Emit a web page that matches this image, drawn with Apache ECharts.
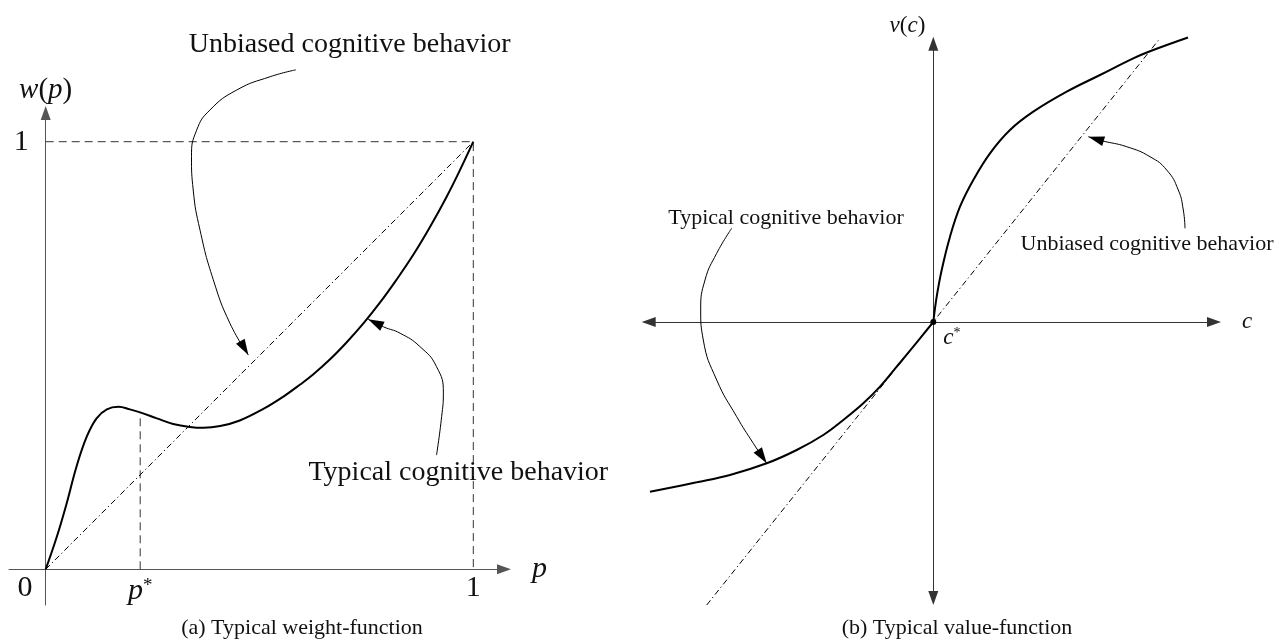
<!DOCTYPE html>
<html>
<head>
<meta charset="utf-8">
<title>Typical weight-function / value-function</title>
<script src="https://cdn.jsdelivr.net/npm/echarts@6/dist/echarts.min.js"></script>
<style>
  html, body { margin: 0; padding: 0; background: #fff; }
  #chart { width: 1286px; height: 642px; }
</style>
</head>
<body>
<div id="chart"></div>
<script>
// ---- (a) weight function w(p), p in [0, 1] ----
const P_STAR = 0.221;
const weightCurve = [
  [0, 0], [0.026, 0.076], [0.049, 0.154], [0.072, 0.240], [0.096, 0.310],
  [0.119, 0.353], [0.143, 0.374], [0.170, 0.380], [0.197, 0.374], [0.221, 0.367],
  [0.260, 0.353], [0.298, 0.340], [0.337, 0.333], [0.369, 0.331], [0.408, 0.335],
  [0.454, 0.348], [0.509, 0.375], [0.556, 0.404], [0.595, 0.432], [0.626, 0.456],
  [0.665, 0.491], [0.704, 0.531], [0.743, 0.575], [0.782, 0.624], [0.821, 0.678],
  [0.860, 0.736], [0.899, 0.801], [0.938, 0.872], [0.969, 0.934], [1, 1]
];
const weightDiagonal = [[0, 0], [1, 1]];
const weightFrame = [[0, 1], [1, 1], [1, 0]];
const pStarGuide = [[P_STAR, 0], [P_STAR, 0.367]];
const weightXTicks = [P_STAR, 1];
const weightXTickLabels = ['{i|p}{s|*}', '{n|1}'];
const weightYTicks = [1];

// ---- (b) value function v(c), c* at the origin ----
const valueLoss = [
  [-2.833, -1.697], [-2.366, -1.603], [-2.033, -1.530], [-1.666, -1.413],
  [-1.366, -1.280], [-1.100, -1.130], [-0.900, -0.980], [-0.700, -0.813],
  [-0.533, -0.647], [-0.366, -0.447], [-0.200, -0.247], [0, 0]
];
const valueGain = [
  [0, 0], [0.034, 0.253], [0.084, 0.520], [0.167, 0.853], [0.267, 1.153],
  [0.400, 1.420], [0.567, 1.687], [0.767, 1.920], [1.000, 2.103], [1.334, 2.303],
  [1.667, 2.470], [2.000, 2.637], [2.200, 2.720], [2.547, 2.845]
];
const valueDiagonal = [[-2.266, -2.83], [2.267, 2.837]];

// ---- annotation leaders (last point is the arrow tip) ----
const leaderUnbiasedA = [
  [0.585, 1.168], [0.525, 1.152], [0.447, 1.121], [0.384, 1.074], [0.353, 1.027],
  [0.341, 0.965], [0.345, 0.887], [0.361, 0.793], [0.392, 0.677], [0.431, 0.575],
  [0.474, 0.501]
];
const leaderTypicalA = [
  [0.914, 0.267], [0.926, 0.357], [0.930, 0.412], [0.914, 0.474], [0.875, 0.521],
  [0.829, 0.552], [0.790, 0.567], [0.754, 0.585]
];
const leaderUnbiasedB = [
  [2.517, 0.937], [2.500, 1.120], [2.450, 1.320], [2.334, 1.520], [2.167, 1.653],
  [1.934, 1.753], [1.684, 1.813], [1.550, 1.853]
];
const leaderTypicalB = [
  [-2.016, 0.937], [-2.166, 0.687], [-2.283, 0.420], [-2.326, 0.120], [-2.300, -0.180],
  [-2.166, -0.580], [-1.966, -0.947], [-1.800, -1.213], [-1.666, -1.413]
];

// annotation texts and where they sit (data coords)
const noteTexts = ['Unbiased cognitive behavior', 'Typical cognitive behavior'];
const notePosA = [[0.711, 1.226], [0.965, 0.225]];
const notePosB = [[2.137, 0.78], [-1.473, 1.04]];
const captions = ['(a) Typical weight-function', '(b) Typical value-function'];

const SERIF = '"Liberation Serif", "Times New Roman", serif';
const INK = '#111';

function mathRich(size) {
  return {
    i: { fontFamily: SERIF, fontStyle: 'italic', fontSize: size, color: INK },
    n: { fontFamily: SERIF, fontSize: size, color: INK },
    s: { fontFamily: SERIF, fontSize: Math.round(size * 0.62), color: INK, verticalAlign: 'top' }
  };
}

//画一条曲线/直线
function curve(data, g, lineStyle, smooth) {
  return {
    type: 'line', xAxisIndex: g, yAxisIndex: g, data: data,
    smooth: smooth || false, showSymbol: false, clip: false, silent: true,
    lineStyle: lineStyle, animation: false
  };
}

//文字标注（scatter 默认 opacity 0.8，这里改回 1）
function note(text, pos, g, size, offset) {
  return {
    type: 'scatter', xAxisIndex: g, yAxisIndex: g, data: [pos],
    symbolSize: 1, itemStyle: { color: 'rgba(0,0,0,0)', opacity: 1 }, clip: false, silent: true,
    label: {
      show: true, position: 'inside', offset: offset || [0, 0], formatter: text,
      fontFamily: SERIF, fontSize: size, color: INK, rich: mathRich(size)
    },
    animation: false
  };
}

const solid = { color: '#000', width: 2 };
const thin = { color: '#000', width: 1 };
const dashed = { color: '#333', width: 1, type: [8, 5] };
const dashDot = { color: '#000', width: 1, type: [6, 3, 1.2, 3] };
const axisA = { color: '#555', width: 1 };
const axisB = { color: '#333', width: 1 };

const leaders = [[leaderUnbiasedA, 0], [leaderTypicalA, 0], [leaderUnbiasedB, 1], [leaderTypicalB, 1]];

const option = {
  backgroundColor: '#fff',
  animation: false,
  grid: [
    { left: 9, top: 113, width: 495, height: 492, outerBoundsMode: 'none' },
    { left: 648.7, top: 43.7, width: 565.3, height: 554.3, outerBoundsMode: 'none' }
  ],
  xAxis: [
    {
      gridIndex: 0, type: 'value', min: -0.0858, max: 1.0718,
      axisLine: { onZero: true, symbol: ['none', 'triangle'], symbolSize: [10, 14], lineStyle: axisA },
      axisTick: { show: false }, splitLine: { show: false }, axisLabel: { show: false },
      name: 'p', nameLocation: 'end', nameGap: 28,
      nameTextStyle: { fontFamily: SERIF, fontStyle: 'italic', fontSize: 30, color: INK, padding: [10, 0, 0, 0] }
    },
    {
      gridIndex: 1, type: 'value', min: -2.846, max: 2.807,
      axisLine: { onZero: true, symbol: ['triangle', 'triangle'], symbolSize: [10, 14], lineStyle: axisB },
      axisTick: { show: false }, splitLine: { show: false }, axisLabel: { show: false },
      name: 'c', nameLocation: 'end', nameGap: 28,
      nameTextStyle: { fontFamily: SERIF, fontStyle: 'italic', fontSize: 23, color: INK, padding: [6, 0, 0, 0] }
    }
  ],
  yAxis: [
    {
      gridIndex: 0, type: 'value', min: -0.0835, max: 1.0671,
      axisLine: { onZero: true, symbol: ['none', 'triangle'], symbolSize: [10, 14], lineStyle: axisA },
      axisTick: { show: false }, splitLine: { show: false }, axisLabel: { show: false },
      name: '{i|w}{n|(}{i|p}{n|)}', nameLocation: 'end', nameGap: 8,
      nameTextStyle: { rich: mathRich(29) }
    },
    {
      gridIndex: 1, type: 'value', min: -2.76, max: 2.783,
      axisLine: { onZero: true, symbol: ['triangle', 'triangle'], symbolSize: [10, 14], lineStyle: axisB },
      axisTick: { show: false }, splitLine: { show: false }, axisLabel: { show: false },
      name: '{i|v}{n|(}{i|c}{n|)}', nameLocation: 'end', nameGap: 6,
      nameTextStyle: { align: 'right', padding: [0, 8, 0, 0], rich: mathRich(23) }
    }
  ],
  graphic: captions.map((t, k) => ({
    type: 'text', x: k === 0 ? 302 : 957, y: 628, silent: true,
    style: {
      text: t, fontFamily: SERIF, fontSize: 22, fill: '#111',
      align: 'center', verticalAlign: 'middle', textAlign: 'center', textVerticalAlign: 'middle'
    }
  })),
  series: [
    // (a)
    curve(weightFrame, 0, dashed),
    curve(pStarGuide, 0, dashed),
    curve(weightDiagonal, 0, dashDot),
    curve(weightCurve, 0, solid, 0.4),
    curve(leaderUnbiasedA, 0, thin, true),
    curve(leaderTypicalA, 0, thin, true),
    note(noteTexts[0], notePosA[0], 0, 28),
    note(noteTexts[1], notePosA[1], 0, 28),
    note('{n|0}', [0, 0], 0, 30, [-20.7, 19]),
    note(weightXTickLabels[0], [weightXTicks[0], 0], 0, 30, [0, 22]),
    note(weightXTickLabels[1], [weightXTicks[1], 0], 0, 30, [0, 19]),
    note('{n|1}', [0, weightYTicks[0]], 0, 30, [-24.5, 0]),
    // (b)
    curve(valueDiagonal, 1, dashDot),
    curve(valueLoss, 1, solid, 0.4),
    curve(valueGain, 1, solid, 0.4),
    curve(leaderUnbiasedB, 1, thin, true),
    curve(leaderTypicalB, 1, thin, true),
    note(noteTexts[0], notePosB[0], 1, 22),
    note(noteTexts[1], notePosB[1], 1, 22),
    {
      type: 'scatter', xAxisIndex: 1, yAxisIndex: 1, data: [[0, 0]],
      symbolSize: 6, itemStyle: { color: '#000', opacity: 1 }, silent: true, animation: false,
      label: {
        show: true, position: 'right', offset: [2, 16], formatter: '{i|c}{s|*}', rich: mathRich(23)
      }
    }
  ]
};

const chart = echarts.init(document.getElementById('chart'));
chart.setOption(option);

//箭头：在引线末端放一个三角形，方向取最后一段
function arrowHeads() {
  return leaders.map(function (item) {
    const d = item[0], g = item[1], n = d.length;
    const a = chart.convertToPixel({ gridIndex: g }, d[n - 2]);
    const b = chart.convertToPixel({ gridIndex: g }, d[n - 1]);
    const dx = b[0] - a[0], dy = b[1] - a[1], len = Math.hypot(dx, dy);
    return {
      type: 'scatter', xAxisIndex: g, yAxisIndex: g, data: [d[n - 1]],
      symbol: 'triangle', symbolSize: [10, 16],
      symbolRotate: Math.atan2(-dy, dx) * 180 / Math.PI - 90,
      symbolOffset: [-dx / len * 8, -dy / len * 8],
      itemStyle: { color: '#000', opacity: 1 }, clip: false, silent: true, animation: false
    };
  });
}
chart.setOption({ series: option.series.concat(arrowHeads()) });
</script>
</body>
</html>
